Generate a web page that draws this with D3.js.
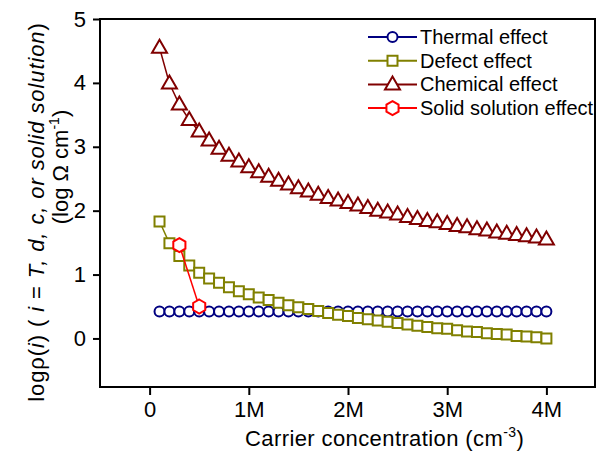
<!DOCTYPE html>
<html>
<head>
<meta charset="utf-8">
<script src="https://cdn.jsdelivr.net/npm/d3@7"></script>
<style>
  body { margin: 0; background: #fff; }
  svg { display: block; font-family: "Liberation Sans", Arial, sans-serif; }
</style>
</head>
<body>
<div id="chart"></div>
<script>
// carrier concentration, in millions of cm^-3
const concentration = [0.1, 0.2, 0.3, 0.4, 0.5, 0.6, 0.7, 0.8, 0.9, 1.0,
  1.1, 1.2, 1.3, 1.4, 1.5, 1.6, 1.7, 1.8, 1.9, 2.0,
  2.1, 2.2, 2.3, 2.4, 2.5, 2.6, 2.7, 2.8, 2.9, 3.0,
  3.1, 3.2, 3.3, 3.4, 3.5, 3.6, 3.7, 3.8, 3.9, 4.0];

const thermal = [0.42, 0.42, 0.42, 0.42, 0.42, 0.42, 0.42, 0.42, 0.42, 0.42,
  0.42, 0.42, 0.42, 0.42, 0.42, 0.42, 0.42, 0.42, 0.42, 0.42,
  0.42, 0.42, 0.42, 0.42, 0.42, 0.42, 0.42, 0.42, 0.42, 0.42,
  0.42, 0.42, 0.42, 0.42, 0.42, 0.42, 0.42, 0.42, 0.42, 0.42];

const defect = [1.83, 1.49, 1.29, 1.14, 1.03, 0.94, 0.87, 0.80, 0.74, 0.69,
  0.64, 0.60, 0.56, 0.52, 0.49, 0.46, 0.43, 0.40, 0.37, 0.35,
  0.32, 0.30, 0.28, 0.26, 0.24, 0.22, 0.20, 0.18, 0.16, 0.15,
  0.13, 0.11, 0.10, 0.08, 0.07, 0.06, 0.04, 0.03, 0.02, 0.00];

const chemical = [4.55, 3.99, 3.66, 3.42, 3.24, 3.10, 2.97, 2.86, 2.77, 2.68,
  2.60, 2.53, 2.47, 2.41, 2.35, 2.30, 2.25, 2.20, 2.16, 2.12,
  2.08, 2.04, 2.00, 1.97, 1.94, 1.90, 1.87, 1.84, 1.82, 1.79,
  1.76, 1.74, 1.71, 1.69, 1.66, 1.64, 1.62, 1.60, 1.58, 1.55];

const solidX = [0.3, 0.5];
const solid = [1.46, 0.50];

const xTicks = [0, 1, 2, 3, 4];
const yTicks = [0, 1, 2, 3, 4, 5];

const width = 597, height = 454;
const margin = { top: 19, right: 1, bottom: 67, left: 100 };

const svg = d3.select("#chart").append("svg")
  .attr("width", width)
  .attr("height", height);

const x = d3.scaleLinear().domain([-0.5, 4.5]).range([margin.left, width - margin.right]);
const y = d3.scaleLinear().domain([-0.76, 5]).range([height - margin.bottom, margin.top]);

// symbol shapes
const shapes = {
  circle: "M5,0A5,5,0,1,1,-5,0A5,5,0,1,1,5,0Z",
  square: "M-5,-5H5V5H-5Z",
  triangle: "M0,-8L7.5,5L-7.5,5Z",
  hexagon: d3.range(6).map(i => {
    const a = Math.PI / 3 * i - Math.PI / 2;
    return [7 * Math.cos(a), 7 * Math.sin(a)];
  }).map((p, i) => (i ? "L" : "M") + p[0].toFixed(2) + "," + p[1].toFixed(2)).join("") + "Z"
};

const series = [
  { name: "Thermal effect", xs: concentration, ys: thermal, color: "#000080", shape: "circle" },
  { name: "Defect effect", xs: concentration, ys: defect, color: "#808000", shape: "square" },
  { name: "Chemical effect", xs: concentration, ys: chemical, color: "#800000", shape: "triangle" },
  { name: "Solid solution effect", xs: solidX, ys: solid, color: "#ff0000", shape: "hexagon" }
];

// axes
const xAxis = svg.append("g").attr("transform", `translate(0,${height - margin.bottom})`);
xAxis.call(d3.axisBottom(x).tickValues(d3.range(-0.5, 4.51, 0.5)).tickSize(4).tickFormat(""));
xAxis.call(d3.axisBottom(x).tickValues(xTicks).tickSize(8).tickPadding(6)
  .tickFormat(d => d === 0 ? "0" : d + "M"));

const yAxis = svg.append("g").attr("transform", `translate(${margin.left},0)`);
yAxis.call(d3.axisLeft(y).tickValues(d3.range(-0.5, 5.01, 0.5)).tickSize(4).tickFormat(""));
yAxis.call(d3.axisLeft(y).tickValues(yTicks).tickSize(7).tickPadding(7).tickFormat(d3.format("d")));

svg.selectAll(".domain").remove();
svg.selectAll(".tick line").attr("stroke", "#000").attr("stroke-width", 2);
svg.selectAll(".tick text").attr("font-size", 22).attr("fill", "#000")
  .attr("font-family", "'Liberation Sans', Arial, sans-serif");

// frame
svg.append("rect")
  .attr("x", margin.left).attr("y", margin.top)
  .attr("width", width - margin.left - margin.right - 1)
  .attr("height", height - margin.top - margin.bottom)
  .attr("fill", "none").attr("stroke", "#000").attr("stroke-width", 2);

// series
const line = d3.line().x(d => x(d[0])).y(d => y(d[1]));
series.forEach(s => {
  const pts = s.xs.map((v, i) => [v, s.ys[i]]);
  const g = svg.append("g");
  g.append("path").datum(pts).attr("d", line)
    .attr("fill", "none").attr("stroke", s.color).attr("stroke-width", 1.5);
  g.selectAll("path.pt").data(pts).enter().append("path")
    .attr("class", "pt")
    .attr("d", shapes[s.shape])
    .attr("transform", d => `translate(${x(d[0])},${y(d[1])})`)
    .attr("fill", "#fff").attr("stroke", s.color).attr("stroke-width", 2);
});

// legend
const legend = svg.append("g").attr("font-size", 20);
series.forEach((s, i) => {
  const ly = 37 + i * 23.7;
  legend.append("line").attr("x1", 368).attr("x2", 417).attr("y1", ly).attr("y2", ly)
    .attr("stroke", s.color).attr("stroke-width", 2);
  legend.append("path").attr("d", shapes[s.shape])
    .attr("transform", `translate(392.5,${ly})`)
    .attr("fill", "#fff").attr("stroke", s.color).attr("stroke-width", 2);
  legend.append("text").attr("x", 420).attr("y", ly + 7).text(s.name);
});

// x title
const xt = svg.append("text").attr("x", 245).attr("y", 446).attr("font-size", 22)
  .attr("letter-spacing", 0.4);
xt.append("tspan").text("Carrier concentration (cm");
xt.append("tspan").attr("dy", -9).attr("font-size", 14).text("-3");
xt.append("tspan").attr("dy", 9).text(")");

// y title, two lines
const yt1 = svg.append("text").attr("transform", "translate(44,212) rotate(-90)")
  .attr("text-anchor", "middle").attr("font-size", 22).attr("letter-spacing", 0.9);
yt1.append("tspan").text("logρ(");
yt1.append("tspan").attr("font-style", "italic").text("i");
yt1.append("tspan").text(") ( ");
yt1.append("tspan").attr("font-style", "italic").text("i");
yt1.append("tspan").text(" = ");
yt1.append("tspan").attr("font-style", "italic").text("T, d, c, or solid solution");
yt1.append("tspan").text(")");

const yt2 = svg.append("text").attr("transform", "translate(68,167) rotate(-90)")
  .attr("text-anchor", "middle").attr("font-size", 22);
yt2.append("tspan").text("(log Ω cm");
yt2.append("tspan").attr("dy", -9).attr("font-size", 14).text("-1");
yt2.append("tspan").attr("dy", 9).text(")");
</script>
</body>
</html>
